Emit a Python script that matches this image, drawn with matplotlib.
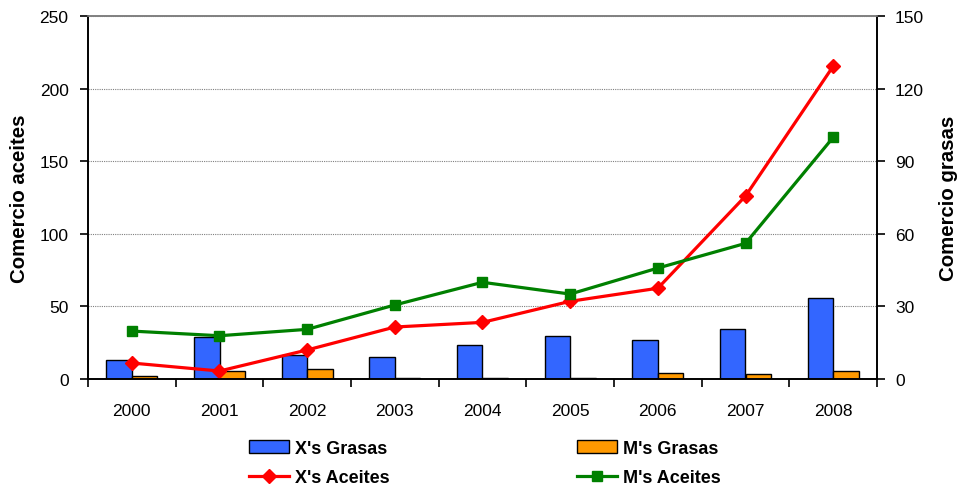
import numpy as np
import matplotlib
matplotlib.use("Agg")
import matplotlib.pyplot as plt
from matplotlib.ticker import MultipleLocator, FixedLocator

plt.rcParams['font.family'] = ['Liberation Sans', 'DejaVu Sans']

years = ['2000', '2001', '2002', '2003', '2004', '2005', '2006', '2007', '2008']
# grasas (right axis)
x_grasas = [7.7, 17.2, 9.9, 9.2, 14.0, 17.9, 16.0, 20.7, 33.3]
m_grasas = [1.2, 3.3, 4.0, 0.5, 0.4, 0.4, 2.6, 1.9, 3.2]
# aceites (left axis)
x_aceites = [11.0, 5.5, 20.0, 35.8, 39.0, 53.5, 62.5, 126.0, 215.4]
m_aceites = [33.0, 29.8, 34.2, 51.0, 66.6, 58.5, 76.4, 93.4, 166.4]

fig = plt.figure(figsize=(9.6, 4.89), dpi=100)
ax = fig.add_axes([88/960, 1 - 380/489, 789/960, 363/489])
ax2 = ax.twinx()
ax.set_zorder(2)
ax2.set_zorder(1)
ax.patch.set_visible(False)

idx = np.arange(len(years))
w = 0.29
b1 = ax2.bar(idx - w/2, x_grasas, w, color='#3366FF', edgecolor='black', linewidth=1, label="X's Grasas")
b2 = ax2.bar(idx + w/2, m_grasas, w, color='#FF9900', edgecolor='black', linewidth=1, label="M's Grasas")

l1, = ax.plot(idx, x_aceites, color='#FF0000', lw=2.3, marker='D', ms=7, label="X's Aceites")
l2, = ax.plot(idx, m_aceites, color='#008000', lw=2.3, marker='s', ms=7, label="M's Aceites")

ax.set_xlim(-0.5, len(years) - 0.5)
ax.set_ylim(0, 250)
ax2.set_ylim(0, 150)
ax.yaxis.set_major_locator(MultipleLocator(50))
ax2.yaxis.set_major_locator(MultipleLocator(30))
ax.set_xticks(idx)
ax.set_xticklabels(years)
ax.xaxis.set_minor_locator(FixedLocator(np.arange(-0.5, len(years), 1)))

ax2.grid(axis='y', color='#808080', linestyle=(0, (1, 1)), linewidth=0.8)
ax2.set_axisbelow(True)

for a in (ax, ax2):
    a.spines['top'].set_color('#808080')
    a.spines['top'].set_linewidth(1.2)
    for s in ('left', 'right', 'bottom'):
        a.spines[s].set_linewidth(1.2)

ax.tick_params(axis='x', which='major', length=0, pad=17, labelsize=12.5)
ax.tick_params(axis='x', which='minor', length=6, width=1.2, direction='out')
ax.tick_params(axis='y', length=6, width=1.2, direction='out', pad=8, labelsize=12.5)
ax2.tick_params(axis='y', length=6, width=1.2, direction='out', pad=7, labelsize=12.5)

ax.set_ylabel('Comercio aceites', fontsize=14.7, fontweight='bold')
ax2.set_ylabel('Comercio grasas', fontsize=14.7, fontweight='bold', rotation=90)
ax.yaxis.set_label_coords(-0.075, 0.5)
ax2.yaxis.set_label_coords(1.079, 0.5)

fig.legend([b1, l1, b2, l2], ["X's Grasas", "X's Aceites", "M's Grasas", "M's Aceites"],
           ncol=2, loc='center', bbox_to_anchor=(485/960, 1 - 464/489), frameon=False,
           prop={'weight': 'bold', 'size': 13}, handlelength=2.2, handletextpad=0.35,
           columnspacing=10.4, labelspacing=0.65, handleheight=0.7)

fig.savefig('out.png', dpi=100)
